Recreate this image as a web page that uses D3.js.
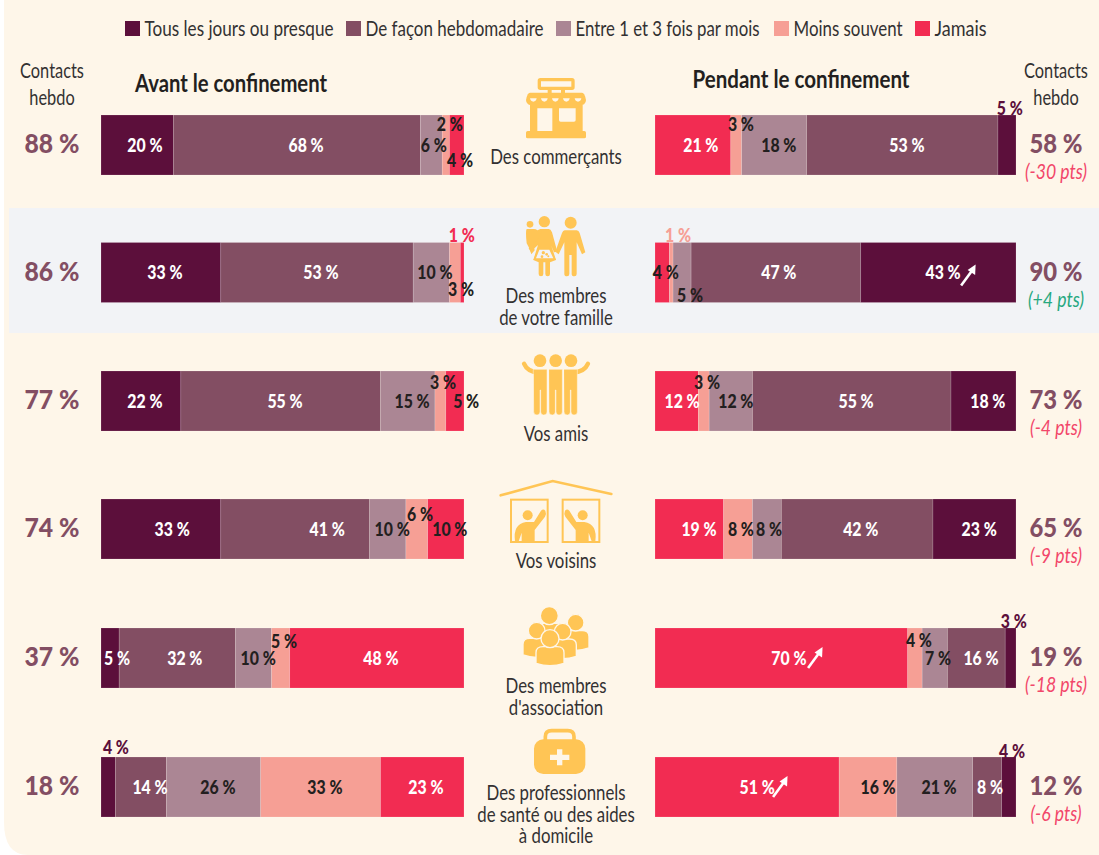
<!DOCTYPE html>
<html lang="fr"><head><meta charset="utf-8">
<script src="https://cdn.jsdelivr.net/npm/d3@7"></script>
<style>html,body{margin:0;padding:0;background:#fff}svg{display:block}text{font-family:"Lato",sans-serif}</style>
</head><body><svg id="c" width="1099" height="855"></svg>
<script>
const categories=["Tous les jours ou presque","De façon hebdomadaire","Entre 1 et 3 fois par mois","Moins souvent","Jamais"];
const categoryColors=["#5C0F3B","#834E63","#AB8694","#F69F95","#F22C52"];
const rows=["Des commerçants","Des membres|de votre famille","Vos amis","Vos voisins","Des membres|d'association","Des professionnels|de santé ou des aides|à domicile"];
// values in category order
const before=[[20,68,6,2,4],[33,53,10,3,1],[22,55,15,3,5],[33,41,10,6,10],[5,32,10,5,48],[4,14,26,33,23]];
// values in stacking order of the right panel (Jamais first)
const during=[[21,3,18,53,5],[4,1,5,47,43],[12,3,12,55,18],[19,8,8,42,23],[70,4,7,16,3],[51,16,21,8,4]];
const weeklyBefore=[88,86,77,74,37,18];
const weeklyDuring=[58,90,73,65,19,12];
const weeklyDelta=["(-30 pts)","(+4 pts)","(-4 pts)","(-9 pts)","(-18 pts)","(-6 pts)"];

// label placement, along the value scale, plus vertical shift and ink
const beforeLabelAt=[[12.1,56.5,91.7,96.1,98.9],[17.6,60.6,92,99.2,99.4],[12.1,50.7,85.7,94.2,100.6],[19.6,62.3,80.2,87.9,96.1],[4.4,23.1,43.3,50.4,77.1],[4.1,13.5,32.2,61.7,89.5]];
const beforeLabelDy=[[0,0,0,-21,15],[0,0,0,17,-37],[0,0,0,-19,0],[0,0,0,-15,0],[0,0,0,-17,0],[-40,0,0,0,0]];
const beforeInk=["wwddd","wwddr","wwddd","wwddd","wwddw","pwddw"];
const duringLabelAt=[[12.7,23.8,34.3,69.8,98.3],[3,6.4,9.7,34.3,79.8],[7.5,14.4,22.4,55.7,92.2],[12.2,23.8,31.6,57,89.8],[37.1,73.1,78.4,90.3,99.4],[28.3,61.8,78.7,92.8,98.9]];
const duringLabelDy=[[0,-21,0,0,-37],[0,-37,23,0,0],[0,-19,0,0,0],[0,0,0,0,0],[0,-18,0,0,-37],[0,0,0,0,-36]];
const duringInk=["wddwp","dsdww","wddww","wddww","wddwp","wddwp"];
const arrowRows=[[1,84.8,13],[4,42.4,10],[5,32.7,10]];

const ink={w:"#fff",d:"#231F20",p:"#5C0F3B",r:"#F22C52",s:"#F69F95"};
const ICON="#FFC555",BG="#FEF6E9",TXT="#333132",H=60;
const svg=d3.select("#c");

svg.append("path").attr("fill",BG)
  .attr("d","M4,0H1099V855H28Q4,855 4,822Z");
svg.append("rect").attr("x",9).attr("y",208).attr("width",1090).attr("height",125).attr("fill","#F2F3F6");

const xL=d3.scaleLinear().domain([0,100]).range([101,464]);
const xR=d3.scaleLinear().domain([0,100]).range([655,1016]);
const yTop=d3.scaleOrdinal().domain(d3.range(rows.length)).range([115,242.5,371,499,628,757]);

function txt(g,x,y,s,o={}){
  const t=g.append("text").attr("text-anchor",o.anchor||"middle")
    .attr("font-size",o.size||20).attr("fill",o.fill||TXT)
    .attr("font-weight",o.weight||400).attr("font-style",o.italic?"italic":null)
    .attr("transform",`translate(${x},${y}) scale(${o.sx||1},1)`).text(s);
  return t;
}

// legend
const legendX=[125,346,556,774,915];
const legendW=[189,178,184,109,52];
const lg=svg.append("g");
categories.forEach((c,i)=>{
  lg.append("rect").attr("x",legendX[i]).attr("y",21).attr("width",15).attr("height",15).attr("fill",categoryColors[i]);
  lg.append("text").attr("x",legendX[i]+19.5).attr("y",36).attr("font-size",21).attr("fill",TXT)
    .attr("textLength",legendW[i]).attr("lengthAdjust","spacingAndGlyphs").text(c);
});

// headers
txt(svg,231,92,"Avant le confinement",{size:24,weight:700,fill:"#231F20"}).attr("textLength",192).attr("lengthAdjust","spacingAndGlyphs");
txt(svg,801,88,"Pendant le confinement",{size:24,weight:700,fill:"#231F20"}).attr("textLength",217).attr("lengthAdjust","spacingAndGlyphs");
[52,1056].forEach(x=>{txt(svg,x,78,"Contacts",{size:21,sx:.78});txt(svg,x,105,"hebdo",{size:21,sx:.78});});

function panel(values,x,colorIdx,labelAt,labelDy,inks){
  const stack=d3.stack().keys(d3.range(5))(values);
  stack.forEach((layer,k)=>{
    const g=svg.append("g").attr("fill",categoryColors[colorIdx[k]]);
    g.selectAll("rect").data(layer).join("rect")
      .attr("x",d=>x(d[0])).attr("y",(d,i)=>yTop(i))
      .attr("width",d=>x(d[1])-x(d[0])).attr("height",H)
      .attr("stroke","#fff").attr("stroke-opacity",.25).attr("stroke-width",.6);
  });
  values.forEach((row,r)=>row.forEach((v,k)=>{
    svg.append("text").attr("text-anchor","middle").attr("font-size",18).attr("font-weight",900)
      .attr("fill",ink[inks[r][k]])
      .attr("transform",`translate(${x(labelAt[r][k])},${yTop(r)+H/2+6.5+labelDy[r][k]}) scale(.88,1)`)
      .text(v+" %");
  }));
}
panel(before,xL,[0,1,2,3,4],beforeLabelAt,beforeLabelDy,beforeInk);
panel(during,xR,[4,3,2,1,0],duringLabelAt,duringLabelDy,duringInk);

// arrows
arrowRows.forEach(([r,p,dy])=>{
  const x0=xR(p),y0=yTop(r)+H/2+dy;
  svg.append("path").attr("fill","none").attr("stroke","#fff").attr("stroke-width",2.6).attr("d",`M${x0},${y0}L${x0+11},${y0-15}`);
  svg.append("path").attr("fill","#fff").attr("d",`M${x0+14.5},${y0-21}L${x0+14},${y0-10.5}L${x0+6.5},${y0-15.5}Z`);
});

// totals
weeklyBefore.forEach((v,i)=>{
  const y=yTop(i)+H/2+8;
  txt(svg,52,y,v+" %",{size:27,weight:900,fill:"#834E63"}).attr("textLength",55).attr("lengthAdjust","spacingAndGlyphs");
});
weeklyDuring.forEach((v,i)=>{
  const y=yTop(i)+H/2+8;
  txt(svg,1056,y,v+" %",{size:27,weight:900,fill:"#834E63"}).attr("textLength",53).attr("lengthAdjust","spacingAndGlyphs");
  const plus=weeklyDelta[i].includes("+");
  txt(svg,1056,y+26,weeklyDelta[i],{size:21,italic:true,sx:.84,fill:plus?"#27A880":"#F2476A"});
});

// centre labels
const labelBase=[164,303,441,568,693,800];
rows.forEach((r,i)=>r.split("|").forEach((s,j)=>txt(svg,556,labelBase[i]+j*21.5,s,{size:21,sx:.8})));

// icons: drawn in the coordinates of a 3x crop
function icon(x,y){return svg.append("g").attr("transform",`translate(${x},${y}) scale(${1/3})`).attr("fill",ICON).attr("stroke-linecap","round");}
function shop(){
  const g=icon(510,70);
  g.append("rect").attr("x",88).attr("y",29).attr("width",101).attr("height",26).attr("rx",3).attr("fill","none").attr("stroke",ICON).attr("stroke-width",10);
  g.append("rect").attr("x",113).attr("y",55).attr("width",12).attr("height",18);
  g.append("rect").attr("x",153).attr("y",55).attr("width",12).attr("height",18);
  g.append("path").attr("d","M60,68H216Q224,68 228,90Q228,107 205,107H72Q48,107 48,90Q52,68 60,68Z");
  g.append("path").attr("fill-rule","evenodd").attr("d","M60,105H218V185H60ZM82,115V183H127V115ZM147,115V150Q147,155 152,155H192Q197,155 197,150V115Z");
  [70,103,136,169,204].forEach(cx=>g.append("path").attr("fill",BG).attr("d",`M${cx-10},85H${cx+10}Q${cx+8},95 ${cx},95Q${cx-8},95 ${cx-10},85Z`));
  g.append("rect").attr("x",48).attr("y",183).attr("width",180).attr("height",22).attr("rx",5);
}
function family(){
  const g=icon(510,205);
  g.append("circle").attr("cx",182).attr("cy",53).attr("r",18);
  g.append("path").attr("d","M164,76H200Q206,76 209,84L226,142L216,148L200,112V207Q200,214 193,214Q185,214 185,207V150H178V207Q178,214 171,214Q163,214 163,207V112L146,148L136,140L156,84Q159,76 164,76Z");
  g.append("circle").attr("cx",103).attr("cy",50).attr("r",17);
  g.append("path").attr("d","M90,72H116Q122,72 126,82L142,140L132,142L124,122L138,165L120,172V207Q120,214 113,214Q106,214 106,207V172H100V207Q100,214 93,214Q86,214 86,207V172L70,165L84,120L62,140L56,130L82,90Z");
  g.append("circle").attr("cx",60).attr("cy",58).attr("r",10);
  g.append("path").attr("d","M50,72H72Q78,72 82,76L92,72L96,80L78,110L70,118L74,136L64,148L58,130L50,115Q48,100 48,85Q48,74 50,72Z");
  g.append("path").attr("d","M84,130H122L138,165H70Z");
  g.append("path").attr("fill","#F2F3F6").attr("d","M88,134H118L130,160H78Z");
  [[100,143,5],[110,148,4],[96,155,4],[115,154,3]].forEach(d=>g.append("circle").attr("cx",d[0]).attr("cy",d[1]).attr("r",d[2]));
}
function friends(){
  const g=icon(440,340);
  g.append("path").attr("fill","none").attr("stroke",ICON).attr("stroke-width",13).attr("d","M252,71Q262,95 295,98M444,71Q434,95 400,98");
  [[300,301],[347,347],[393,392]].forEach(([c,b])=>{
    g.append("circle").attr("cx",c).attr("cy",62).attr("r",19);
    g.append("path").attr("stroke",BG).attr("stroke-width",1.5).attr("d",`M${b-20},88H${b+20}V216Q${b+20},225 ${b+10},225Q${b+2},225 ${b+1},216V150H${b-1}V216Q${b-2},225 ${b-10},225Q${b-20},225 ${b-20},216Z`);
  });
}
function neighbours(){
  const g=icon(440,340);
  g.append("path").attr("fill","none").attr("stroke",ICON).attr("stroke-width",8).attr("d","M182,466L338,423L514,462");
  [213,368].forEach((x,i)=>{
    g.append("rect").attr("x",x).attr("y",479).attr("width",110).attr("height",127).attr("fill","none").attr("stroke",ICON).attr("stroke-width",6);
    const p=g.append("g").attr("transform",i?`translate(691,0) scale(-1,1)`:null);
    p.append("circle").attr("cx",263).attr("cy",526).attr("r",15);
    p.append("path").attr("d","M225,604Q218,552 258,546H282L303,512Q310,505 316,512Q320,520 315,530L284,570V604H245V578L236,604Z");
  });
}
function association(){
  const g=icon(440,340);
  const person=(cx,cy,r,bw,by,h)=>{
    g.append("path").attr("stroke",BG).attr("stroke-width",4).attr("d",`M${cx-bw},${by+h}V${by+18}Q${cx-bw},${by} ${cx-bw/2},${by}H${cx+bw/2}Q${cx+bw},${by} ${cx+bw},${by+18}V${by+h}Q${cx},${by+h+14} ${cx-bw},${by+h}Z`);
    g.append("circle").attr("stroke",BG).attr("stroke-width",4).attr("cx",cx).attr("cy",cy).attr("r",r);
  };
  person(328,827,27,36,850,50);
  person(407,848,25,40,872,52);
  person(290,872,25,41,895,50);
  person(368,875,25,41,897,52);
  person(330,896,27,42,920,50);
}
function bag(){
  const g=icon(440,340);
  g.append("path").attr("fill","none").attr("stroke",ICON).attr("stroke-width",11).attr("d","M316,1205V1190Q316,1172 335,1172H383Q402,1172 402,1190V1205");
  g.append("rect").attr("x",282).attr("y",1198).attr("width",154).attr("height",104).attr("rx",28);
  g.append("path").attr("fill",BG).attr("d","M351,1228H367V1244H388V1260H367V1276H351V1260H330V1244H351Z");
}
shop();family();friends();neighbours();association();bag();
</script></body></html>
